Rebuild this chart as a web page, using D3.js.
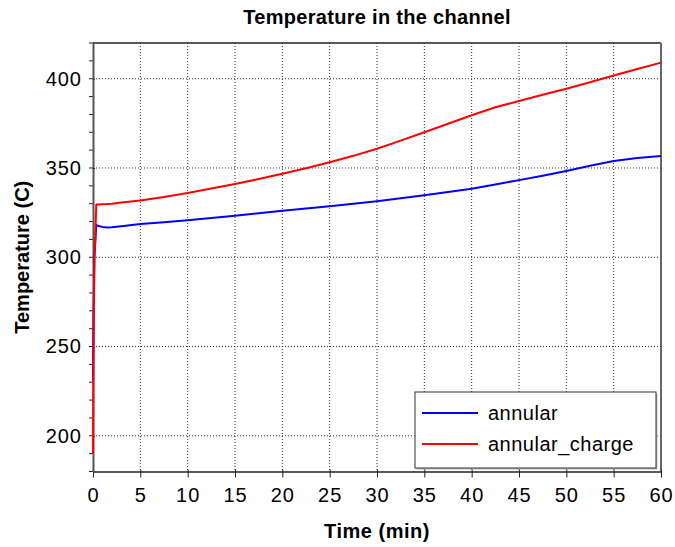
<!DOCTYPE html>
<html>
<head>
<meta charset="utf-8">
<script src="https://cdn.jsdelivr.net/npm/d3@7"></script>
<style>
  body { margin: 0; background: #fff; }
  svg { font-family: "Liberation Sans", Arial, sans-serif; }
</style>
</head>
<body>
<div id="chart"></div>
<script>
const svgWidth = 675;
const svgHeight = 547;

const margin = { top: 43, right: 14, bottom: 75.5, left: 93 };
const width = svgWidth - margin.left - margin.right;
const height = svgHeight - margin.top - margin.bottom;

// time in minutes
const timeMin = [0, 0.05, 0.15, 0.35, 0.6, 1, 1.5, 2, 3, 5, 7.5, 10, 12.5, 15, 17.5, 20, 22.5,
    25, 27.5, 30, 32.5, 35, 37.5, 40, 42.5, 45, 47.5, 50, 52.5, 55, 57.5, 60];
const annular = [231, 265, 300, 318, 317.5, 317, 316.6, 316.8, 317.4, 318.6, 319.6, 320.7, 322,
    323.3, 324.7, 326, 327.3, 328.6, 330, 331.4, 333, 334.7, 336.5, 338.4, 340.8, 343.2, 345.7,
    348.3, 351.2, 353.9, 355.6, 356.7];
const annularCharge = [190, 250, 300, 329.5, 329.6, 329.7, 329.8, 330, 330.6, 331.8, 333.8, 336,
    338.5, 341, 343.8, 346.8, 349.9, 353.2, 356.8, 360.8, 365.3, 370, 374.8, 379.5, 384, 387.5,
    391, 394.4, 398, 401.8, 405.4, 409];

const seriesNames = ['annular', 'annular_charge'];
const seriesColors = ['#0000ff', '#ff0000'];
const xTicks = d3.range(0, 61, 5);
const yTicks = [200, 250, 300, 350, 400];
const yMinorTicks = d3.range(180, 421, 10);

const font = '"Liberation Sans", Arial, sans-serif';

const svg = d3.select('#chart')
    .append('svg')
    .attr('width', svgWidth)
    .attr('height', svgHeight);

const g = svg.append('g')
    .attr('transform', `translate(${margin.left},${margin.top})`);

const x = d3.scaleLinear().domain([0, 60]).range([0, width]);
const y = d3.scaleLinear().domain([180, 420]).range([height, 0]);

// grid
g.append('g')
    .selectAll('line')
    .data(xTicks.slice(1, -1))
    .join('line')
    .attr('x1', d => x(d)).attr('x2', d => x(d))
    .attr('y1', 0).attr('y2', height)
    .attr('stroke', '#333')
    .attr('stroke-width', 1)
    .attr('stroke-dasharray', '1,2');

g.append('g')
    .selectAll('line')
    .data(yTicks)
    .join('line')
    .attr('x1', 0).attr('x2', width)
    .attr('y1', d => y(d)).attr('y2', d => y(d))
    .attr('stroke', '#333')
    .attr('stroke-width', 1)
    .attr('stroke-dasharray', '1,2');

// frame top/right
g.append('line')
    .attr('x1', 0).attr('x2', width).attr('y1', 0).attr('y2', 0)
    .attr('stroke', '#222').attr('stroke-width', 1.5);
g.append('line')
    .attr('x1', width).attr('x2', width).attr('y1', 0).attr('y2', height)
    .attr('stroke', '#666').attr('stroke-width', 2);

// y minor ticks
g.append('g')
    .selectAll('line')
    .data(yMinorTicks)
    .join('line')
    .attr('x1', -4).attr('x2', 1)
    .attr('y1', d => y(d)).attr('y2', d => y(d))
    .attr('stroke', '#222');

// axes
const xAxis = g.append('g')
    .attr('transform', `translate(0,${height})`)
    .call(d3.axisBottom(x).tickValues(xTicks).tickSizeInner(6).tickSizeOuter(0).tickPadding(10));
xAxis.selectAll('.tick line').attr('y1', -2).attr('stroke', '#222');
xAxis.select('.domain').attr('stroke', '#222').attr('stroke-width', 1.5);
xAxis.selectAll('text')
    .attr('font-size', 20).attr('fill', '#000')
    .attr('letter-spacing', 1)
    .attr('font-family', font);

const yAxis = g.append('g')
    .call(d3.axisLeft(y).tickValues(yTicks).tickSizeInner(7).tickSizeOuter(0).tickPadding(4));
yAxis.selectAll('.tick line').attr('x2', 2).attr('stroke', '#222');
yAxis.select('.domain').attr('stroke', '#555').attr('stroke-width', 2);
yAxis.selectAll('text')
    .attr('font-size', 20).attr('fill', '#000')
    .attr('letter-spacing', 1)
    .attr('font-family', font);

// lines
const seriesData = [annular, annularCharge];
const line = d3.line()
    .x((d, i) => x(timeMin[i]))
    .y(d => y(d));

g.append('g')
    .selectAll('path')
    .data(seriesData)
    .join('path')
    .attr('fill', 'none')
    .attr('stroke', (d, i) => seriesColors[i])
    .attr('stroke-width', 2)
    .attr('stroke-linejoin', 'round')
    .attr('d', line);

// legend
const legend = g.append('g')
    .attr('transform', `translate(${415 - margin.left},${392 - margin.top})`);
legend.append('rect')
    .attr('x', 1.5).attr('y', 1.5)
    .attr('width', 241).attr('height', 76)
    .attr('fill', '#bbb');
legend.append('rect')
    .attr('width', 241).attr('height', 76)
    .attr('fill', '#fff')
    .attr('stroke', '#333')
    .attr('stroke-width', 1);
const items = legend.selectAll('.item')
    .data(seriesNames)
    .join('g')
    .attr('transform', (d, i) => `translate(0,${21 + i * 31})`);
items.append('line')
    .attr('x1', 7).attr('x2', 63)
    .attr('stroke', (d, i) => seriesColors[i])
    .attr('stroke-width', 2);
items.append('text')
    .attr('x', 73)
    .attr('dy', '0.35em')
    .attr('font-size', 20)
    .attr('letter-spacing', 0.5)
    .attr('fill', '#000')
    .text(d => d);

// titles
svg.append('text')
    .attr('x', margin.left + width / 2)
    .attr('y', 24)
    .attr('text-anchor', 'middle')
    .attr('font-size', 20)
    .attr('letter-spacing', 0.3)
    .attr('font-weight', 'bold')
    .attr('fill', '#000')
    .text('Temperature in the channel');

svg.append('text')
    .attr('x', margin.left + width / 2)
    .attr('y', 538)
    .attr('text-anchor', 'middle')
    .attr('font-size', 20)
    .attr('letter-spacing', 0.5)
    .attr('font-weight', 'bold')
    .attr('fill', '#000')
    .text('Time (min)');

svg.append('text')
    .attr('transform', `translate(29,${margin.top + height / 2}) rotate(-90)`)
    .attr('text-anchor', 'middle')
    .attr('font-size', 20)
    .attr('font-weight', 'bold')
    .attr('fill', '#000')
    .text('Temperature (C)');
</script>
</body>
</html>
